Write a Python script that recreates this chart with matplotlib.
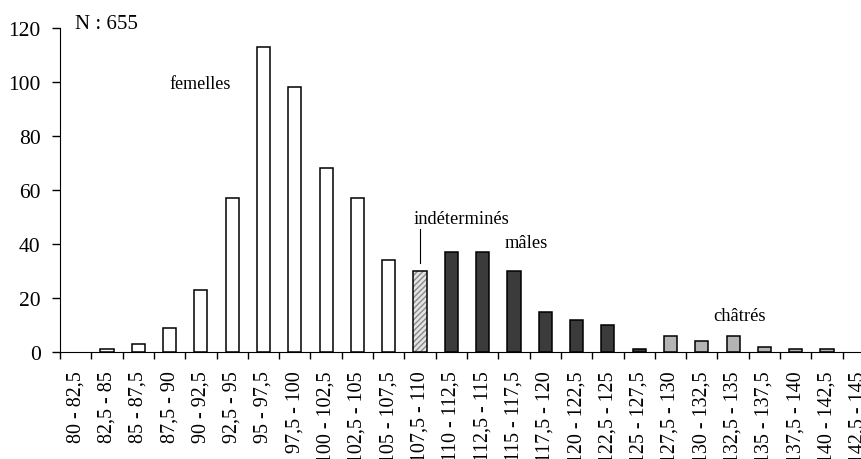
import matplotlib.pyplot as plt

classes = ["80 - 82,5", "82,5 - 85", "85 - 87,5", "87,5 - 90", "90 - 92,5", "92,5 - 95",
           "95 - 97,5", "97,5 - 100", "100 - 102,5", "102,5 - 105", "105 - 107,5",
           "107,5 - 110", "110 - 112,5", "112,5 - 115", "115 - 117,5", "117,5 - 120",
           "120 - 122,5", "122,5 - 125", "125 - 127,5", "127,5 - 130", "130 - 132,5",
           "132,5 - 135", "135 - 137,5", "137,5 - 140", "140 - 142,5", "142,5 - 145"]
effectifs = [0, 1, 3, 9, 23, 57, 113, 98, 68, 57, 34, 30, 37, 37, 30, 15, 12, 10, 1,
             6, 4, 6, 2, 1, 1, 0]
groupe = ["f"] * 11 + ["i"] + ["m"] * 7 + ["c"] * 7

couleurs = {"f": "white", "i": "#e4e4e4", "m": "#3b3b3b", "c": "#b4b4b4"}

plt.rcParams['font.family'] = ['Liberation Serif', 'DejaVu Serif']

fig = plt.figure(figsize=(8.62, 4.60), dpi=100)
ax = fig.add_axes([60 / 862, 107 / 460, 814 / 862, 324 / 460])

x = list(range(len(classes)))
for i, (v, g) in enumerate(zip(effectifs, groupe)):
    if v == 0:
        continue
    if g == "i":
        ax.bar(i, v, width=0.42, color=couleurs[g], edgecolor="#8a8a8a",
               hatch="//////", linewidth=0)
        ax.bar(i, v, width=0.42, color="none", edgecolor="black", linewidth=1.1)
    else:
        ax.bar(i, v, width=0.42, color=couleurs[g], edgecolor="black", linewidth=1.1)

ax.set_xlim(-0.5, len(classes) - 0.5)
ax.set_ylim(0, 120)
ax.set_yticks([0, 20, 40, 60, 80, 100, 120])
ax.set_xticks([i - 0.5 for i in range(len(classes) + 1)])
ax.set_xticklabels([])
ax.set_xticks(x, minor=True)
ax.set_xticklabels(classes, minor=True, rotation=90, va="top", ha="center", fontsize=14.4)
ax.tick_params(axis="x", which="minor", length=0, pad=13)
ax.tick_params(axis="x", which="major", length=5, width=1, direction="out")
ax.tick_params(axis="y", length=6, width=1, direction="out", labelsize=15.5, pad=8)

ax.spines["top"].set_visible(False)
ax.spines["right"].set_visible(False)

ax.text(-0.02, 121.8, "N : 655", fontsize=15, ha="left", va="center", clip_on=False)
ax.text(3.97, 99.3, "femelles", fontsize=13, ha="center", va="center")
ax.text(12.33, 49.3, "indéterminés", fontsize=13.3, ha="center", va="center")
ax.plot([11, 11], [33, 45.6], color="black", linewidth=0.8)
ax.text(14.38, 40.7, "mâles", fontsize=13.3, ha="center", va="center")
ax.text(21.2, 13.7, "châtrés", fontsize=13.3, ha="center", va="center")

fig.savefig("out.png", dpi=100)
